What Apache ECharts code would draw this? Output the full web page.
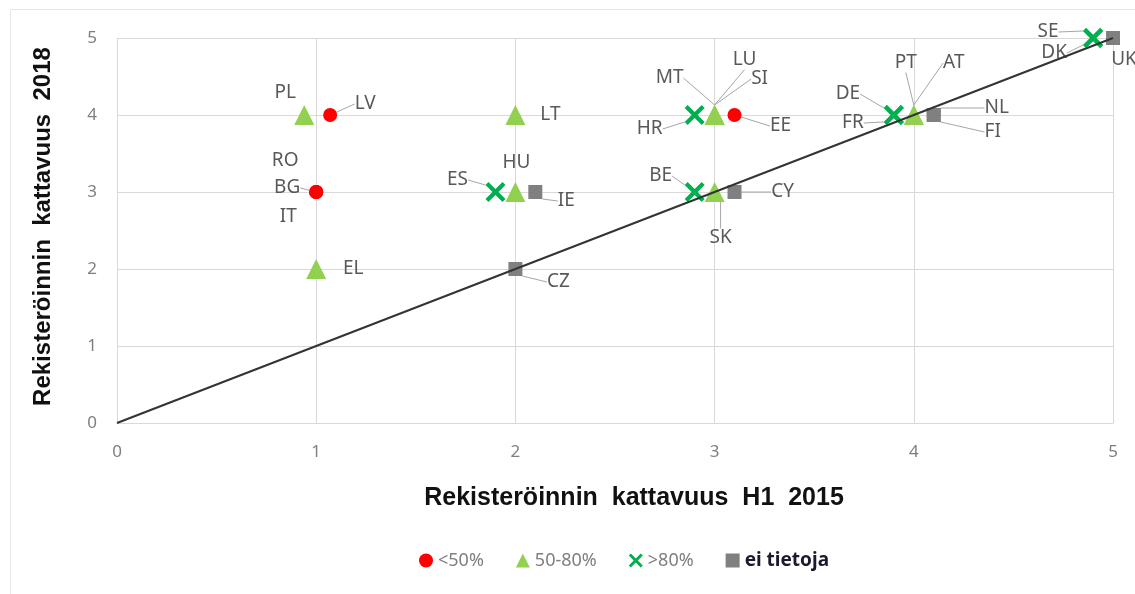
<!DOCTYPE html>
<html>
<head>
<meta charset="utf-8">
<script src="https://cdn.jsdelivr.net/npm/echarts@6/dist/echarts.min.js"></script>
<style>
html, body { margin: 0; padding: 0; background: #fff; }
#main { width: 1135px; height: 594px; }
</style>
</head>
<body>
<div id="main"></div>
<script>
// ryhmä <50%
var maat1 = ['LV', 'RO', 'BG', 'IT', 'EE'];
var x1 = [1.07, 1, 1, 1, 3.1];
var y1 = [4, 3, 3, 3, 4];
// ryhmä 50-80%
var maat2 = ['PL', 'EL', 'LT', 'HU', 'MT', 'LU', 'SI', 'SK', 'PT', 'AT'];
var x2 = [0.94, 1, 2, 2, 3, 3, 3, 3, 4, 4];
var y2 = [4, 2, 4, 3, 4, 4, 4, 3, 4, 4];
// ryhmä >80%
var maat3 = ['ES', 'HR', 'BE', 'DE', 'FR', 'SE', 'DK'];
var x3 = [1.9, 2.9, 2.9, 3.9, 3.9, 4.9, 4.9];
var y3 = [3, 4, 3, 4, 4, 5, 5];
// ei tietoja
var maat4 = ['IE', 'CZ', 'CY', 'NL', 'FI', 'UK'];
var x4 = [2.1, 2, 3.1, 4.1, 4.1, 5];
var y4 = [3, 2, 3, 4, 4, 5];
// diagonaali
var diagonaali = [[0, 0], [5, 5]];
var ryhmat = ['<50%', '50-80%', '>80%', 'ei tietoja'];
var akseliTikit = [0, 1, 2, 3, 4, 5];

// label offsets (px) from the marker
var siirrot = {
  PL: [-19, -22, 0], LV: [35, -11, 1], RO: [-31, -31, 0], BG: [-29, -4, 1], IT: [-28, 25, 0],
  EL: [37, 0, 0], LT: [35, 0, 0], HU: [1, -29, 0], ES: [-38, -12, 1], IE: [31, 9, 1],
  CZ: [43, 13, 1], MT: [-45, -37, 1], LU: [30, -55, 1], SI: [45, -36, 1], HR: [-45, 14, 1],
  EE: [46, 11, 1], BE: [-34, -16, 1], SK: [6, 46, 1], CY: [48, 0, 1], DE: [-46, -21, 1],
  FR: [-41, 8, 1], PT: [-8, -52, 1], AT: [40, -52, 1], NL: [63, -7, 1], FI: [59, 17, 1],
  SE: [-45, -6, 1], DK: [-39, 15, 1], UK: [11, 22, 0]
};

var ristiPolku = 'path://M0,3 L3,0 L10,7 L17,0 L20,3 L13,10 L20,17 L17,20 L10,13 L3,20 L0,17 L7,10 Z';

function pisteet(maat, xs, ys) {
  var d = [];
  for (var i = 0; i < maat.length; i++) {
    var s = siirrot[maat[i]];
    d.push({ name: maat[i], value: [xs[i], ys[i]], labelLine: { show: s[2] === 1 } });
  }
  return d;
}

var nimiTyyli = {
  show: true,
  position: 'inside',
  formatter: '{b}',
  color: '#595959',
  fontSize: 19,
  fontFamily: 'Noto Sans'
};

function asettelu(params) {
  var s = siirrot[params.text];
  if (!s) return {};
  return { dx: s[0], dy: s[1] };
}

function sarja(nimi, maat, xs, ys, symboli, koko, vari) {
  return {
    name: nimi,
    type: 'scatter',
    symbol: symboli,
    symbolSize: koko,
    itemStyle: { color: vari, opacity: 1 },
    data: pisteet(maat, xs, ys),
    label: nimiTyyli,
    labelLayout: asettelu,
    labelLine: { show: true, lineStyle: { color: '#a6a6a6', width: 1 } },
    z: 3
  };
}

var myChart = echarts.init(document.getElementById('main'));
var option = {
  animation: false,
  backgroundColor: '#fff',
  graphic: [{
    type: 'rect',
    shape: { x: 10.5, y: 9.5, width: 1200, height: 700 },
    style: { fill: 'none', stroke: '#e6e6e6', lineWidth: 1 },
    silent: true, z: -10
  }],
  grid: { left: 117, right: 22, top: 38, bottom: 171 },
  legend: {
    data: [
      { name: ryhmat[0] },
      { name: ryhmat[1] },
      { name: ryhmat[2] },
      { name: ryhmat[3], textStyle: { color: '#1a1a2e', fontWeight: 'bold', fontSize: 19 } }
    ],
    left: 414,
    top: 546,
    itemGap: 32,
    itemWidth: 14,
    itemHeight: 14,
    textStyle: { color: '#7f7f7f', fontSize: 18, fontFamily: 'Noto Sans' }
  },
  xAxis: {
    type: 'value',
    min: akseliTikit[0],
    max: akseliTikit[akseliTikit.length - 1],
    interval: 1,
    name: 'Rekisteröinnin  kattavuus  H1  2015',
    nameLocation: 'middle',
    nameGap: 63,
    nameTextStyle: { fontSize: 25, fontWeight: 'bold', color: '#111', fontFamily: 'Liberation Sans', padding: [0, 0, 0, 38] },
    axisLine: { show: true, lineStyle: { color: '#d9d9d9' } },
    axisTick: { show: false },
    axisLabel: { color: '#7f7f7f', fontSize: 17, margin: 21, fontFamily: 'Noto Sans' },
    splitLine: { show: true, lineStyle: { color: '#d9d9d9' } }
  },
  yAxis: {
    type: 'value',
    min: akseliTikit[0],
    max: akseliTikit[akseliTikit.length - 1],
    interval: 1,
    name: 'Rekisteröinnin  kattavuus  2018',
    nameLocation: 'middle',
    nameGap: 62,
    nameTextStyle: { fontSize: 24, fontWeight: 'bold', color: '#111', fontFamily: 'Liberation Sans', padding: [0, 0, 0, 8] },
    axisLine: { show: true, lineStyle: { color: '#d9d9d9' } },
    axisTick: { show: false },
    axisLabel: { color: '#7f7f7f', fontSize: 17, margin: 20, fontFamily: 'Noto Sans' },
    splitLine: { show: true, lineStyle: { color: '#d9d9d9' } }
  },
  series: [
    sarja(ryhmat[0], maat1, x1, y1, 'circle', 14, '#ff0000'),
    sarja(ryhmat[1], maat2, x2, y2, 'triangle', 20, '#92d050'),
    sarja(ryhmat[2], maat3, x3, y3, ristiPolku, 20, '#00b050'),
    sarja(ryhmat[3], maat4, x4, y4, 'rect', 14, '#808080'),
    {
      type: 'line',
      data: diagonaali,
      symbol: 'none',
      clip: false,
      lineStyle: { color: '#333', width: 2 },
      silent: true,
      z: 5
    }
  ]
};
myChart.setOption(option);
</script>
</body>
</html>
